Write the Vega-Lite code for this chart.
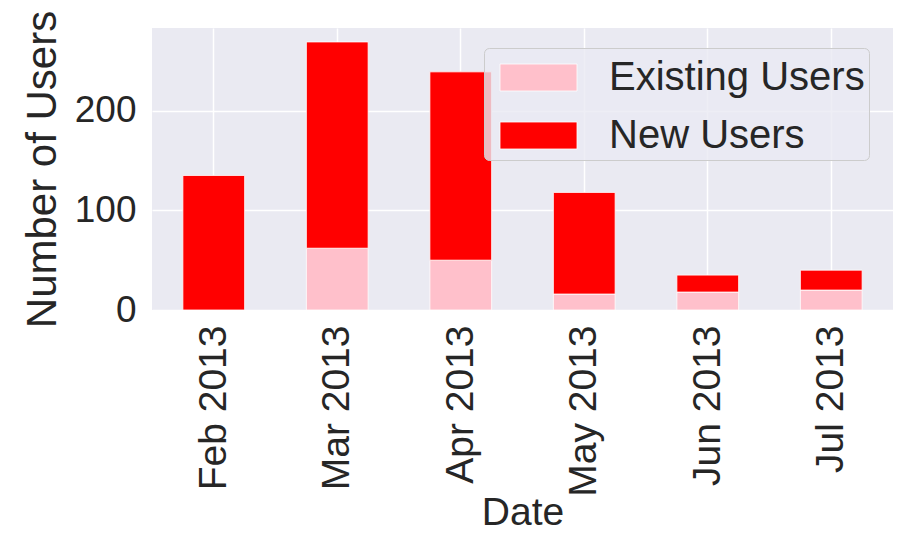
{
  "$schema": "https://vega.github.io/schema/vega-lite/v6.json",
  "width": 741,
  "height": 282,
  "autosize": {"type": "none"},
  "padding": {"left": 152, "top": 28, "right": 7, "bottom": 225},
  "background": "white",
  "config": {
    "font": "Liberation Sans",
    "view": {"fill": "#EAEAF2", "stroke": null},
    "axis": {
      "domain": false,
      "ticks": false,
      "grid": true,
      "gridColor": "white",
      "gridWidth": 1.5,
      "labelColor": "#262626",
      "titleColor": "#262626",
      "labelFont": "Liberation Sans",
      "titleFont": "Liberation Sans",
      "titleFontWeight": "normal"
    }
  },
  "data": {
    "values": [
      {"month": "Feb 2013", "type": "Existing Users", "count": 0},
      {"month": "Feb 2013", "type": "New Users", "count": 135},
      {"month": "Mar 2013", "type": "Existing Users", "count": 62},
      {"month": "Mar 2013", "type": "New Users", "count": 207},
      {"month": "Apr 2013", "type": "Existing Users", "count": 50},
      {"month": "Apr 2013", "type": "New Users", "count": 189},
      {"month": "May 2013", "type": "Existing Users", "count": 16},
      {"month": "May 2013", "type": "New Users", "count": 102},
      {"month": "Jun 2013", "type": "Existing Users", "count": 18},
      {"month": "Jun 2013", "type": "New Users", "count": 17},
      {"month": "Jul 2013", "type": "Existing Users", "count": 20},
      {"month": "Jul 2013", "type": "New Users", "count": 20}
    ]
  },
  "mark": {"type": "bar", "stroke": "white", "strokeWidth": 0.8},
  "encoding": {
    "x": {
      "field": "month",
      "type": "nominal",
      "sort": null,
      "scale": {"paddingInner": 0.5, "paddingOuter": 0.25},
      "axis": {
        "title": "Date",
        "labelAngle": -90,
        "labelAlign": "right",
        "labelBaseline": "middle",
        "labelFontSize": 39,
        "labelPadding": 15,
        "titleFontSize": 39,
        "titlePadding": -3
      }
    },
    "y": {
      "field": "count",
      "type": "quantitative",
      "stack": "zero",
      "scale": {"domain": [0, 283], "nice": false},
      "axis": {
        "title": "Number of Users",
        "values": [0, 100, 200],
        "labelFontSize": 37,
        "labelPadding": 16,
        "titleFontSize": 42,
        "titlePadding": 10
      }
    },
    "color": {
      "field": "type",
      "type": "nominal",
      "scale": {"domain": ["Existing Users", "New Users"], "range": ["#FFC0CB", "#FF0000"]},
      "legend": {
        "title": null,
        "orient": "none",
        "legendX": 332,
        "legendY": 20,
        "direction": "vertical",
        "fillColor": "rgba(234,234,242,0.8)",
        "strokeColor": "#CCCCCC",
        "cornerRadius": 5,
        "padding": 4,
        "rowPadding": 12,
        "symbolType": "M-1.54,-0.54H1.54V0.54H-1.54Z",
        "symbolSize": 2500,
        "symbolStrokeColor": "white",
        "symbolStrokeWidth": 0.8,
        "symbolOpacity": 1,
        "symbolOffset": 25,
        "labelFontSize": 40,
        "labelColor": "#262626",
        "labelFont": "Liberation Sans",
        "labelOffset": 45,
        "labelLimit": 400
      }
    },
    "order": {"field": "type", "sort": "ascending"}
  }
}
